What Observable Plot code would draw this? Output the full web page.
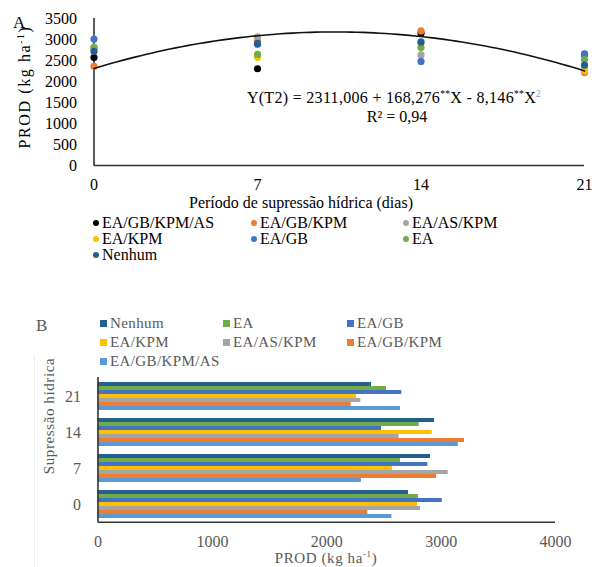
<!DOCTYPE html>
<html><head><meta charset="utf-8">
<script src="https://cdn.jsdelivr.net/npm/d3@7"></script>
<script src="https://cdn.jsdelivr.net/npm/@observablehq/plot@0.6"></script>
<style>
body{margin:0;background:#fff;}
#root{position:relative;width:592px;height:567px;overflow:hidden;font-family:"Liberation Serif","Tinos","Times New Roman","DejaVu Serif",serif;color:#000;}
#root svg text{font-family:"Liberation Serif","Tinos","Times New Roman","DejaVu Serif",serif;}
.abs{position:absolute;white-space:nowrap;line-height:1;}
.cx{transform:translate(-50%,-50%);}
.rot{transform:translate(-50%,-50%) rotate(-90deg);}
.svgbox{position:absolute;left:0;}
.leg{position:absolute;white-space:nowrap;line-height:1;display:flex;align-items:center;}
.dot{display:inline-block;width:6px;height:6px;border-radius:50%;margin-right:3px;}
.sq{display:inline-block;width:7px;height:7px;margin-right:3px;}
sup{font-size:60%;vertical-align:super;line-height:0;}
</style></head><body><div id="root"></div>
<script>
// ---------- data ----------
const days = [0, 7, 14, 21];
const dayLabels = ["0", "7", "14", "21"];
const seriesNames = ["EA/GB/KPM/AS", "EA/GB/KPM", "EA/AS/KPM", "EA/KPM", "EA/GB", "EA", "Nenhum"];
// yield (kg ha-1) at 0, 7, 14, 21 days
const eaGbKpmAs = [2569, 2303, 3150, 2645];
const eaGbKpm   = [2359, 2960, 3205, 2213];
const eaAsKpm   = [2820, 3062, 2633, 2298];
const eaKpm     = [2794, 2575, 2922, 2260];
const eaGb      = [3010, 2884, 2479, 2656];
const ea        = [2802, 2645, 2808, 2522];
const nenhum    = [2715, 2907, 2942, 2391];
const seriesValues = [eaGbKpmAs, eaGbKpm, eaAsKpm, eaKpm, eaGb, ea, nenhum];
const colorsA = ["#000000", "#ED7D31", "#A5A5A5", "#FFC000", "#4472C4", "#70AD47", "#255E91"];
// panel B order (top to bottom inside each group) and colours
const seriesB = ["Nenhum", "EA", "EA/GB", "EA/KPM", "EA/AS/KPM", "EA/GB/KPM", "EA/GB/KPM/AS"];
const colorsB = ["#255E91", "#70AD47", "#4472C4", "#FFC000", "#A5A5A5", "#ED7D31", "#5B9BD5"];
const groupOrderB = ["21", "14", "7", "0"];
// regression shown on panel A: Y = b0 + b1 X + b2 X^2
const trendCoef = [2311.006, 168.276, -8.146];
const yTicksA = [0, 500, 1000, 1500, 2000, 2500, 3000, 3500];
const xTicksB = [0, 1000, 2000, 3000, 4000];

// ---------- tables ----------
const pointsA = [];
seriesNames.forEach((s, si) => days.forEach((d, di) => pointsA.push({series: s, day: d, value: seriesValues[si][di]})));
const trendLine = d3.range(0, 21.001, 0.25).map(x => ({x, y: trendCoef[0] + trendCoef[1] * x + trendCoef[2] * x * x}));
const barsB = [];
dayLabels.forEach((g, di) => seriesB.forEach(s => barsB.push({group: g, series: s, value: seriesValues[seriesNames.indexOf(s)][di]})));

const FONT = "'Liberation Serif', Tinos, 'Times New Roman', 'DejaVu Serif', serif";
const root = document.getElementById("root");
function addText(html, left, top, cls, style) {
  const el = document.createElement("div");
  el.className = "abs " + (cls || "");
  el.style.left = left + "px"; el.style.top = top + "px";
  if (style) Object.assign(el.style, style);
  el.innerHTML = html;
  root.appendChild(el);
  return el;
}
function addSvg(svg, top) {
  const box = document.createElement("div");
  box.className = "svgbox"; box.style.top = top + "px";
  box.appendChild(svg); root.appendChild(box);
}
const plain = d => String(d);

// ---------- panel A ----------
const plotA = Plot.plot({
  width: 592, height: 196,
  marginTop: 18, marginBottom: 31, marginLeft: 93.5, marginRight: 8,
  style: {fontFamily: FONT, fontSize: "16px", color: "#000", background: "transparent", overflow: "visible"},
  x: {domain: [0, 21], ticks: days, tickFormat: plain, tickSize: 0, tickPadding: 13, label: null},
  y: {domain: [0, 3500], ticks: yTicksA, tickFormat: plain, tickSize: 0, tickPadding: 17, label: null},
  color: {domain: seriesNames, range: colorsA},
  marks: [
    Plot.ruleX([0], {stroke: "#333", strokeWidth: 1.6}),
    Plot.ruleY([0], {stroke: "#333", strokeWidth: 1.6}),
    Plot.dot(pointsA, {x: "day", y: "value", fill: "series", r: 3.6}),
    Plot.line(trendLine, {x: "x", y: "y", stroke: "#111", strokeWidth: 1.6})
  ]
});
addSvg(plotA, 0);

addText("A", 13, 14, "", {fontSize: "17px"});
addText("PROD (kg ha<sup>-1</sup>)", 25, 87, "rot", {fontSize: "16px", letterSpacing: "1.6px"});
addText("Y(T2) = 2311,006 + 168,276<sup>**</sup>X - 8,146<sup>**</sup>X<sup style='color:#999'>2</sup>", 394, 98, "cx", {fontSize: "16px", letterSpacing: "0.3px"});
addText("R² = 0,94", 397, 117, "cx", {fontSize: "16px"});
addText("Período de supressão hídrica (dias)", 301, 203, "cx", {fontSize: "16px"});

const legAPos = [[93, 223], [251, 223], [403, 223], [93, 239], [251, 239], [403, 239], [93, 255]];
seriesNames.forEach((s, i) => {
  const el = document.createElement("div");
  el.className = "leg";
  el.style.left = legAPos[i][0] + "px"; el.style.top = (legAPos[i][1] - 8) + "px";
  el.style.fontSize = "16px"; el.style.height = "16px";
  el.innerHTML = `<span class="dot" style="background:${colorsA[i]}"></span>${s}`;
  root.appendChild(el);
});

// ---------- panel B ----------
const topB = 360;
const plotB = Plot.plot({
  width: 592, height: 207,
  marginTop: 17, marginBottom: 45.3, marginLeft: 97.5, marginRight: 37,
  style: {fontFamily: FONT, fontSize: "16px", color: "#595959", background: "transparent", overflow: "visible"},
  x: {domain: [0, 4000], axis: null},
  y: {domain: seriesB, axis: null, padding: 0},
  fy: {domain: groupOrderB, paddingInner: 0.18, paddingOuter: 0.09, axis: "left", tickSize: 0, tickPadding: 17, label: null},
  color: {domain: seriesB, range: colorsB},
  marks: [
    Plot.barX(barsB, {x: "value", y: "series", fy: "group", fill: "series"})
  ]
});
addSvg(plotB, topB);

const axesB = Plot.plot({
  width: 592, height: 207,
  marginTop: 17, marginBottom: 45.3, marginLeft: 97.5, marginRight: 37,
  style: {fontFamily: FONT, fontSize: "16px", color: "#595959", background: "transparent", overflow: "visible"},
  x: {domain: [0, 4000], ticks: xTicksB, tickFormat: plain, tickSize: 0, tickPadding: 13, label: null},
  y: {domain: [0, 1], axis: null},
  marks: [
    Plot.ruleX([0], {stroke: "#333", strokeWidth: 1.6}),
    Plot.ruleY([0], {stroke: "#333", strokeWidth: 1.6})
  ]
});
addSvg(axesB, topB);

addText("B", 36, 317, "", {fontSize: "17px", color: "#595959"});
addText("Supressão hídrica", 49, 416, "rot", {fontSize: "15px", color: "#595959", letterSpacing: "0.6px"});
addText("PROD (kg ha<sup>-1</sup>)", 326, 558, "cx", {fontSize: "15px", color: "#595959", letterSpacing: "0.6px"});

const legBPos = [[100, 323], [223, 323], [347, 323], [100, 342], [223, 342], [347, 342], [100, 361]];
seriesB.forEach((s, i) => {
  const el = document.createElement("div");
  el.className = "leg";
  el.style.left = legBPos[i][0] + "px"; el.style.top = (legBPos[i][1] - 8) + "px";
  el.style.fontSize = "15px"; el.style.height = "16px"; el.style.color = "#595959";
  el.style.letterSpacing = "0.4px";
  el.innerHTML = `<span class="sq" style="background:${colorsB[i]}"></span>${s}`;
  root.appendChild(el);
});
// faint chart-area border of panel B
const border = document.createElement("div");
border.style.cssText = "position:absolute;left:34px;top:355px;width:0;height:212px;border-left:1px solid #eee;";
root.appendChild(border);
</script>
</body></html>
